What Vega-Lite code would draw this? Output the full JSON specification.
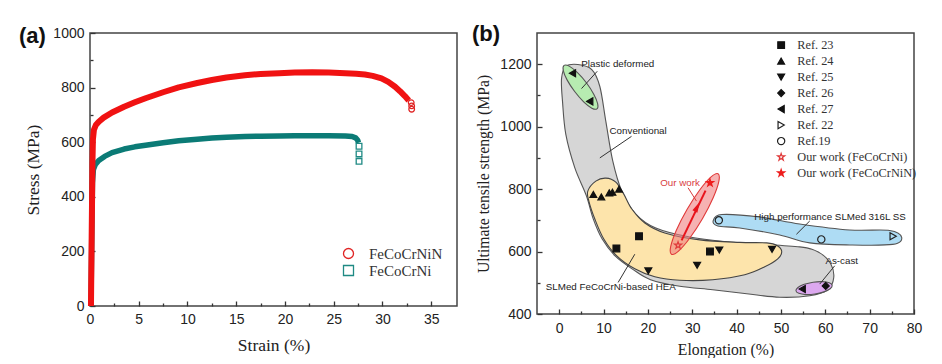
{
  "$schema": "https://vega.github.io/schema/vega-lite/v6.json",
  "background": "white",
  "padding": {"left": 18, "top": 22, "right": 0, "bottom": 0},
  "spacing": 13,
  "resolve": {"scale": {"shape": "independent", "stroke": "independent", "fill": "independent", "size": "independent"}, "legend": {"shape": "independent", "stroke": "independent", "fill": "independent", "size": "independent"}},
  "config": {
    "view": {"stroke": "#444", "strokeWidth": 1.5},
    "axis": {"grid": false, "domain": false, "format": "d", "labelFont": "Liberation Sans", "labelFontSize": 14, "labelColor": "#222", "titleFont": "Liberation Serif", "titleFontWeight": "normal", "titleColor": "#222", "tickColor": "#333", "tickWidth": 1.3, "labelFlush": false, "labelOverlap": false}
  },
  "datasets": {
    "nin": [
      {"strain": 0.1, "stress": 0}, {"strain": 0.17, "stress": 250}, {"strain": 0.25, "stress": 520}, {"strain": 0.3, "stress": 610}, {"strain": 0.4, "stress": 645},
      {"strain": 0.6, "stress": 663}, {"strain": 0.9, "stress": 675}, {"strain": 1.4, "stress": 690}, {"strain": 2.26, "stress": 709}, {"strain": 3.5, "stress": 730},
      {"strain": 4.6, "stress": 746}, {"strain": 5.7, "stress": 761}, {"strain": 7.5, "stress": 783}, {"strain": 9.1, "stress": 801}, {"strain": 11, "stress": 817},
      {"strain": 12.5, "stress": 828}, {"strain": 14, "stress": 837}, {"strain": 15.9, "stress": 845}, {"strain": 17.5, "stress": 850}, {"strain": 19.4, "stress": 853},
      {"strain": 21, "stress": 855}, {"strain": 22.8, "stress": 856}, {"strain": 24.5, "stress": 855}, {"strain": 26.2, "stress": 853}, {"strain": 27.3, "stress": 851},
      {"strain": 28.2, "stress": 848}, {"strain": 29, "stress": 843}, {"strain": 29.9, "stress": 834}, {"strain": 30.6, "stress": 821}, {"strain": 31.3, "stress": 803},
      {"strain": 31.8, "stress": 787}, {"strain": 32.3, "stress": 769}, {"strain": 32.7, "stress": 753}
    ],
    "ni": [
      {"strain": 0.1, "stress": 0}, {"strain": 0.17, "stress": 220}, {"strain": 0.25, "stress": 450}, {"strain": 0.35, "stress": 500}, {"strain": 0.55, "stress": 518},
      {"strain": 0.9, "stress": 533}, {"strain": 1.5, "stress": 548}, {"strain": 2.26, "stress": 562}, {"strain": 3.5, "stress": 575}, {"strain": 4.6, "stress": 583},
      {"strain": 5.7, "stress": 589}, {"strain": 7.5, "stress": 598}, {"strain": 9.1, "stress": 605}, {"strain": 11, "stress": 611}, {"strain": 12.5, "stress": 615},
      {"strain": 14, "stress": 618}, {"strain": 15.9, "stress": 621}, {"strain": 17.5, "stress": 622}, {"strain": 19.4, "stress": 623}, {"strain": 21, "stress": 624},
      {"strain": 22.8, "stress": 624}, {"strain": 24.5, "stress": 624}, {"strain": 26.2, "stress": 623}, {"strain": 26.9, "stress": 621}, {"strain": 27.25, "stress": 616},
      {"strain": 27.45, "stress": 608}, {"strain": 27.55, "stress": 598}
    ],
    "ends": [
      {"strain": 32.95, "stress": 745, "s": "FeCoCrNiN"}, {"strain": 33.0, "stress": 733, "s": "FeCoCrNiN"}, {"strain": 33.0, "stress": 721, "s": "FeCoCrNiN"},
      {"strain": 27.6, "stress": 585, "s": "FeCoCrNi"}, {"strain": 27.6, "stress": 557, "s": "FeCoCrNi"}, {"strain": 27.6, "stress": 530, "s": "FeCoCrNi"}
    ],
    "regions": [
      {"r": "conv", "i": 1, "x": 1.5, "y": 1192.5}, {"r": "conv", "i": 2, "x": 4.21, "y": 1198.9}, {"r": "conv", "i": 3, "x": 7.36, "y": 1182.9},
      {"r": "conv", "i": 4, "x": 9.17, "y": 1128.7}, {"r": "conv", "i": 5, "x": 10.52, "y": 1017.0}, {"r": "conv", "i": 6, "x": 12.09, "y": 889.4},
      {"r": "conv", "i": 7, "x": 14.12, "y": 793.6}, {"r": "conv", "i": 8, "x": 17.28, "y": 720.2}, {"r": "conv", "i": 9, "x": 21.79, "y": 675.5},
      {"r": "conv", "i": 10, "x": 29.45, "y": 646.8}, {"r": "conv", "i": 11, "x": 40.72, "y": 627.7}, {"r": "conv", "i": 12, "x": 54.23, "y": 614.9},
      {"r": "conv", "i": 13, "x": 58.74, "y": 595.8}, {"r": "conv", "i": 14, "x": 61.22, "y": 560.7}, {"r": "conv", "i": 15, "x": 61.9, "y": 516.0},
      {"r": "conv", "i": 16, "x": 60.55, "y": 477.7}, {"r": "conv", "i": 17, "x": 56.49, "y": 458.5}, {"r": "conv", "i": 18, "x": 49.73, "y": 453.7},
      {"r": "conv", "i": 19, "x": 42.29, "y": 464.9}, {"r": "conv", "i": 20, "x": 34.63, "y": 477.7}, {"r": "conv", "i": 21, "x": 27.19, "y": 488.8},
      {"r": "conv", "i": 22, "x": 20.6, "y": 510}, {"r": "conv", "i": 23, "x": 16.6, "y": 543}, {"r": "conv", "i": 24, "x": 12.6, "y": 586},
      {"r": "conv", "i": 25, "x": 9.7, "y": 640}, {"r": "conv", "i": 26, "x": 7.7, "y": 704}, {"r": "conv", "i": 27, "x": 6.1, "y": 780},
      {"r": "conv", "i": 28, "x": 3.53, "y": 868}, {"r": "conv", "i": 29, "x": 1.5, "y": 975}, {"r": "conv", "i": 30, "x": 0.75, "y": 1081},
      {"r": "conv", "i": 31, "x": 0.53, "y": 1154},
      {"r": "slm", "i": 1, "x": 6.46, "y": 793.6}, {"r": "slm", "i": 2, "x": 8.26, "y": 825.5}, {"r": "slm", "i": 3, "x": 10.52, "y": 835.1},
      {"r": "slm", "i": 4, "x": 12.77, "y": 822.3}, {"r": "slm", "i": 5, "x": 14.57, "y": 784.0}, {"r": "slm", "i": 6, "x": 16.38, "y": 736.2},
      {"r": "slm", "i": 7, "x": 19.31, "y": 691.5}, {"r": "slm", "i": 8, "x": 23.81, "y": 659.6}, {"r": "slm", "i": 9, "x": 31.7, "y": 637.3},
      {"r": "slm", "i": 10, "x": 40.72, "y": 629.3}, {"r": "slm", "i": 11, "x": 46.8, "y": 627.7}, {"r": "slm", "i": 12, "x": 49.28, "y": 618.1},
      {"r": "slm", "i": 13, "x": 50.18, "y": 599.0}, {"r": "slm", "i": 14, "x": 49.28, "y": 576.6}, {"r": "slm", "i": 15, "x": 46.35, "y": 551.1},
      {"r": "slm", "i": 16, "x": 41.84, "y": 525.5}, {"r": "slm", "i": 17, "x": 34.63, "y": 509.6}, {"r": "slm", "i": 18, "x": 27.19, "y": 508.0},
      {"r": "slm", "i": 19, "x": 21.56, "y": 519.1}, {"r": "slm", "i": 20, "x": 17.05, "y": 544.7}, {"r": "slm", "i": 21, "x": 12.99, "y": 586.2},
      {"r": "slm", "i": 22, "x": 10.06, "y": 640.4}, {"r": "slm", "i": 23, "x": 8.04, "y": 704.3}, {"r": "slm", "i": 24, "x": 6.69, "y": 761.7},
      {"r": "plastic", "i": 1, "x": 8.52, "y": 1057.0}, {"r": "plastic", "i": 2, "x": 8.68, "y": 1073.4}, {"r": "plastic", "i": 3, "x": 7.8, "y": 1104.0},
      {"r": "plastic", "i": 4, "x": 6.13, "y": 1140.7}, {"r": "plastic", "i": 5, "x": 4.07, "y": 1173.6}, {"r": "plastic", "i": 6, "x": 2.25, "y": 1193.9},
      {"r": "plastic", "i": 7, "x": 1.1, "y": 1196.2}, {"r": "plastic", "i": 8, "x": 0.93, "y": 1179.8}, {"r": "plastic", "i": 9, "x": 1.81, "y": 1149.1},
      {"r": "plastic", "i": 10, "x": 3.49, "y": 1112.5}, {"r": "plastic", "i": 11, "x": 5.52, "y": 1079.6}, {"r": "plastic", "i": 12, "x": 7.36, "y": 1059.3},
      {"r": "hp", "i": 1, "x": 34.74, "y": 699.5}, {"r": "hp", "i": 2, "x": 36.66, "y": 718.6}, {"r": "hp", "i": 3, "x": 45.22, "y": 710.6},
      {"r": "hp", "i": 4, "x": 54.23, "y": 688.3}, {"r": "hp", "i": 5, "x": 65.5, "y": 669.1}, {"r": "hp", "i": 6, "x": 74.51, "y": 667.5},
      {"r": "hp", "i": 7, "x": 77.22, "y": 645.2}, {"r": "hp", "i": 8, "x": 75.19, "y": 622.9}, {"r": "hp", "i": 9, "x": 65.5, "y": 621.2},
      {"r": "hp", "i": 10, "x": 56.49, "y": 627.7}, {"r": "hp", "i": 11, "x": 49.73, "y": 653.2}, {"r": "hp", "i": 12, "x": 40.72, "y": 675.5},
      {"r": "hp", "i": 13, "x": 35.76, "y": 681.9},
      {"r": "cast", "i": 1, "x": 61.55, "y": 491.6}, {"r": "cast", "i": 2, "x": 61.1, "y": 481.0}, {"r": "cast", "i": 3, "x": 59.67, "y": 470.9},
      {"r": "cast", "i": 4, "x": 57.66, "y": 464.0}, {"r": "cast", "i": 5, "x": 55.59, "y": 462.2}, {"r": "cast", "i": 6, "x": 54.03, "y": 466.1},
      {"r": "cast", "i": 7, "x": 53.38, "y": 474.4}, {"r": "cast", "i": 8, "x": 53.83, "y": 485.0}, {"r": "cast", "i": 9, "x": 55.25, "y": 495.0},
      {"r": "cast", "i": 10, "x": 57.26, "y": 501.9}, {"r": "cast", "i": 11, "x": 59.33, "y": 503.6}, {"r": "cast", "i": 12, "x": 60.9, "y": 499.9},
      {"r": "our", "i": 1, "x": 35.83, "y": 849.2}, {"r": "our", "i": 2, "x": 36.0, "y": 824.7}, {"r": "our", "i": 3, "x": 34.72, "y": 772.3},
      {"r": "our", "i": 4, "x": 32.33, "y": 705.9}, {"r": "our", "i": 5, "x": 29.46, "y": 643.3}, {"r": "our", "i": 6, "x": 26.9, "y": 601.3},
      {"r": "our", "i": 7, "x": 25.31, "y": 591.2}, {"r": "our", "i": 8, "x": 25.14, "y": 615.7}, {"r": "our", "i": 9, "x": 26.42, "y": 668.2},
      {"r": "our", "i": 10, "x": 28.82, "y": 734.6}, {"r": "our", "i": 11, "x": 31.68, "y": 797.1}, {"r": "our", "i": 12, "x": 34.25, "y": 839.1}
    ],
    "leaders": [
      {"k": "plastic", "x": 8.58, "y": 1177.3, "x2": 5.04, "y2": 1122.0},
      {"k": "conv", "x": 16.31, "y": 969, "x2": 9.17, "y2": 900},
      {"k": "our", "x": 29.06, "y": 804.2, "x2": 30.95, "y2": 761.7},
      {"k": "hp", "x": 56.49, "y": 697.9, "x2": 53.49, "y2": 655.3},
      {"k": "cast", "x": 62.12, "y": 554.3, "x2": 58.74, "y2": 495.8},
      {"k": "slm", "x": 13.29, "y": 501.0, "x2": 17.05, "y2": 591.5}
    ],
    "arrow": [{"x": 27.6, "y": 636, "x2": 33.0, "y2": 795}],
    "head": [{"x": 31.1, "y": 742}],
    "pts": [
      {"x": 12.9, "y": 610, "s": "Ref. 23"}, {"x": 18.0, "y": 649, "s": "Ref. 23"}, {"x": 34.0, "y": 600, "s": "Ref. 23"},
      {"x": 7.7, "y": 783, "s": "Ref. 24"}, {"x": 9.5, "y": 775, "s": "Ref. 24"}, {"x": 11.3, "y": 788, "s": "Ref. 24"}, {"x": 12.0, "y": 790, "s": "Ref. 24"}, {"x": 13.5, "y": 800, "s": "Ref. 24"},
      {"x": 20.1, "y": 538, "s": "Ref. 25"}, {"x": 31.1, "y": 556, "s": "Ref. 25"}, {"x": 36.1, "y": 605, "s": "Ref. 25"}, {"x": 48.0, "y": 607, "s": "Ref. 25"},
      {"x": 60.1, "y": 490, "s": "Ref. 26"},
      {"x": 3.0, "y": 1171, "s": "Ref. 27"}, {"x": 6.9, "y": 1081, "s": "Ref. 27"}, {"x": 54.8, "y": 480, "s": "Ref. 27"},
      {"x": 75.3, "y": 649, "s": "Ref. 22"},
      {"x": 36.0, "y": 700, "s": "Ref.19"}, {"x": 59.1, "y": 639, "s": "Ref.19"},
      {"x": 26.8, "y": 620, "s": "Our work (FeCoCrNi)"},
      {"x": 34.0, "y": 820, "s": "Our work (FeCoCrNiN)"}
    ],
    "labels": [
      {"t": "Plastic deformed", "x": 13.22, "y": 1201, "c": "k"},
      {"t": "Conventional", "x": 17.8, "y": 985, "c": "k"},
      {"t": "Our work", "x": 27.26, "y": 820, "c": "r"},
      {"t": "High performance SLMed 316L SS", "x": 61.07, "y": 710.6, "c": "k"},
      {"t": "As-cast", "x": 63.7, "y": 570.2, "c": "k"},
      {"t": "SLMed FeCoCrNi-based HEA", "x": 11.64, "y": 485.1, "c": "k"}
    ]
  },
  "hconcat": [
    {
      "width": 367,
      "height": 273,
      "title": {"text": "(a)", "anchor": "start", "frame": "group", "dx": -71, "offset": -22, "fontSize": 22, "fontWeight": "bold", "font": "Liberation Sans", "color": "#111"},
      "encoding": {
        "x": {"field": "strain", "type": "quantitative", "scale": {"domain": [0, 37.65], "nice": false, "zero": false},
          "axis": {"title": "Strain (%)", "titleFontSize": 17.5, "titlePadding": 8, "values": [0, 2.5, 5, 7.5, 10, 12.5, 15, 17.5, 20, 22.5, 25, 27.5, 30, 32.5, 35],
            "labelExpr": "datum.value % 5 === 0 ? datum.label : ''", "tickSize": {"condition": {"test": "datum.value % 5 === 0", "value": -5}, "value": -3}, "labelPadding": 11}},
        "y": {"field": "stress", "type": "quantitative", "scale": {"domain": [0, 1000], "nice": false, "zero": false},
          "axis": {"title": "Stress (MPa)", "titleFontSize": 17.5, "titlePadding": 10, "values": [0, 100, 200, 300, 400, 500, 600, 700, 800, 900, 1000],
            "labelExpr": "datum.value % 200 === 0 ? datum.label : ''", "tickSize": {"condition": {"test": "datum.value % 200 === 0", "value": -5}, "value": -3}, "labelPadding": 11}}
      },
      "layer": [
        {"data": {"name": "ni"}, "mark": {"type": "line", "color": "#0b7b76", "strokeWidth": 5.5, "strokeJoin": "round"}},
        {"data": {"name": "nin"}, "mark": {"type": "line", "color": "#f01212", "strokeWidth": 6, "strokeJoin": "round"}},
        {"data": {"name": "ends"}, "mark": {"type": "point", "filled": false, "opacity": 1, "strokeWidth": 1.3, "size": 32},
          "encoding": {
            "shape": {"field": "s", "type": "nominal", "scale": {"domain": ["FeCoCrNiN", "FeCoCrNi"], "range": ["circle", "square"]},
              "legend": {"title": null, "orient": "none", "legendX": 251, "legendY": 213, "labelFont": "Liberation Serif", "labelFontSize": 15, "labelColor": "#333", "rowPadding": 0, "labelOffset": 13, "symbolStrokeWidth": 1.3}},
            "stroke": {"field": "s", "type": "nominal", "scale": {"domain": ["FeCoCrNiN", "FeCoCrNi"], "range": ["#e02424", "#1f8a84"]},
              "legend": {"title": null, "orient": "none", "legendX": 251, "legendY": 213, "labelFont": "Liberation Serif", "labelFontSize": 15, "labelColor": "#333", "rowPadding": 0, "labelOffset": 13, "symbolStrokeWidth": 1.3}}
          }}
      ]
    },
    {
      "width": 377,
      "height": 281,
      "title": {"text": "(b)", "anchor": "start", "frame": "group", "dx": -65, "offset": -13, "fontSize": 22, "fontWeight": "bold", "font": "Liberation Sans", "color": "#111"},
      "encoding": {
        "x": {"field": "x", "type": "quantitative", "scale": {"domain": [-5, 80], "nice": false, "zero": false},
          "axis": {"title": "Elongation (%)", "titleFontSize": 15.7, "titlePadding": 5, "values": [0, 5, 10, 15, 20, 25, 30, 35, 40, 45, 50, 55, 60, 65, 70, 75, 80],
            "labelExpr": "datum.value % 10 === 0 ? datum.label : ''", "tickSize": {"condition": {"test": "datum.value % 10 === 0", "value": -5}, "value": -3}, "labelPadding": 12}},
        "y": {"field": "y", "type": "quantitative", "scale": {"domain": [400, 1300], "nice": false, "zero": false},
          "axis": {"title": "Ultimate tensile strength (MPa)", "titleFontSize": 15.7, "titlePadding": 8, "values": [400, 500, 600, 700, 800, 900, 1000, 1100, 1200],
            "labelExpr": "datum.value % 200 === 0 ? datum.label : ''", "tickSize": {"condition": {"test": "datum.value % 200 === 0", "value": -5}, "value": -3}, "labelPadding": 11}}
      },
      "layer": [
        {"data": {"name": "regions"}, "transform": [{"filter": "datum.r === 'conv'"}],
          "mark": {"type": "line", "interpolate": "cardinal-closed", "fill": "#d6d6d6", "stroke": "#555", "strokeWidth": 1.1}, "encoding": {"order": {"field": "i", "type": "quantitative"}}},
        {"data": {"name": "regions"}, "transform": [{"filter": "datum.r === 'slm'"}],
          "mark": {"type": "line", "interpolate": "cardinal-closed", "fill": "#fde4ab", "stroke": "#444", "strokeWidth": 1.1}, "encoding": {"order": {"field": "i", "type": "quantitative"}}},
        {"data": {"name": "regions"}, "transform": [{"filter": "datum.r === 'plastic'"}],
          "mark": {"type": "line", "interpolate": "cardinal-closed", "fill": "#b7ecb1", "stroke": "#555", "strokeWidth": 1.1}, "encoding": {"order": {"field": "i", "type": "quantitative"}}},
        {"data": {"name": "regions"}, "transform": [{"filter": "datum.r === 'hp'"}],
          "mark": {"type": "line", "interpolate": "cardinal-closed", "fill": "#aedcf4", "stroke": "#555", "strokeWidth": 1.1}, "encoding": {"order": {"field": "i", "type": "quantitative"}}},
        {"data": {"name": "regions"}, "transform": [{"filter": "datum.r === 'cast'"}],
          "mark": {"type": "line", "interpolate": "cardinal-closed", "fill": "#dca8ef", "stroke": "#555", "strokeWidth": 1.1}, "encoding": {"order": {"field": "i", "type": "quantitative"}}},
        {"data": {"name": "regions"}, "transform": [{"filter": "datum.r === 'our'"}],
          "mark": {"type": "line", "interpolate": "cardinal-closed", "fill": "#f07e7e", "fillOpacity": 0.6, "stroke": "#e03a3a", "strokeWidth": 1.1}, "encoding": {"order": {"field": "i", "type": "quantitative"}}},
        {"data": {"name": "leaders"}, "mark": {"type": "rule", "strokeWidth": 1},
          "encoding": {"x2": {"field": "x2"}, "y2": {"field": "y2"}, "color": {"condition": {"test": "datum.k === 'our'", "value": "#d83b3b"}, "value": "#333"}}},
        {"data": {"name": "arrow"}, "mark": {"type": "rule", "strokeWidth": 2, "color": "#e8141c"},
          "encoding": {"x2": {"field": "x2"}, "y2": {"field": "y2"}}},
        {"data": {"name": "head"}, "mark": {"type": "point", "shape": "M0,-1L0.45,0.8L-0.45,0.8Z", "size": 150, "angle": 27, "filled": true, "color": "#e8141c", "opacity": 1}},
        {"data": {"name": "pts"}, "mark": {"type": "point", "opacity": 1, "strokeWidth": 1.2},
          "encoding": {
            "shape": {"field": "s", "type": "nominal",
              "scale": {"domain": ["Ref. 23", "Ref. 24", "Ref. 25", "Ref. 26", "Ref. 27", "Ref. 22", "Ref.19", "Our work (FeCoCrNi)", "Our work (FeCoCrNiN)"],
                "range": ["square", "triangle-up", "triangle-down", "diamond", "triangle-left", "triangle-right", "circle", "M0,-1L0.2245,-0.309L0.951,-0.309L0.363,0.118L0.588,0.809L0,0.382L-0.588,0.809L-0.363,0.118L-0.951,-0.309L-0.2245,-0.309Z", "M0,-1L0.2245,-0.309L0.951,-0.309L0.363,0.118L0.588,0.809L0,0.382L-0.588,0.809L-0.363,0.118L-0.951,-0.309L-0.2245,-0.309Z"]},
              "legend": {"title": null, "orient": "none", "legendX": 238, "legendY": 4.5, "labelFont": "Liberation Serif", "labelFontSize": 12.3, "labelColor": "#333", "clipHeight": 15.2, "rowPadding": 0, "labelOffset": 10, "symbolStrokeWidth": 1.2}},
            "fill": {"field": "s", "type": "nominal",
              "scale": {"domain": ["Ref. 23", "Ref. 24", "Ref. 25", "Ref. 26", "Ref. 27", "Ref. 22", "Ref.19", "Our work (FeCoCrNi)", "Our work (FeCoCrNiN)"],
                "range": ["#111", "#111", "#111", "#111", "#111", "transparent", "transparent", "transparent", "#ee1c1c"]},
              "legend": {"title": null, "orient": "none", "legendX": 238, "legendY": 4.5, "labelFont": "Liberation Serif", "labelFontSize": 12.3, "labelColor": "#333", "clipHeight": 15.2, "rowPadding": 0, "labelOffset": 10, "symbolStrokeWidth": 1.2}},
            "stroke": {"field": "s", "type": "nominal",
              "scale": {"domain": ["Ref. 23", "Ref. 24", "Ref. 25", "Ref. 26", "Ref. 27", "Ref. 22", "Ref.19", "Our work (FeCoCrNi)", "Our work (FeCoCrNiN)"],
                "range": ["#111", "#111", "#111", "#111", "#111", "#222", "#222", "#e03a3a", "#ee1c1c"]},
              "legend": {"title": null, "orient": "none", "legendX": 238, "legendY": 4.5, "labelFont": "Liberation Serif", "labelFontSize": 12.3, "labelColor": "#333", "clipHeight": 15.2, "rowPadding": 0, "labelOffset": 10, "symbolStrokeWidth": 1.2}},
            "size": {"field": "s", "type": "nominal",
              "scale": {"domain": ["Ref. 23", "Ref. 24", "Ref. 25", "Ref. 26", "Ref. 27", "Ref. 22", "Ref.19", "Our work (FeCoCrNi)", "Our work (FeCoCrNiN)"],
                "range": [45, 55, 55, 60, 55, 50, 50, 190, 210]},
              "legend": {"title": null, "orient": "none", "legendX": 238, "legendY": 4.5, "labelFont": "Liberation Serif", "labelFontSize": 12.3, "labelColor": "#333", "clipHeight": 15.2, "rowPadding": 0, "labelOffset": 10, "symbolStrokeWidth": 1.2}}
          }},
        {"data": {"name": "labels"}, "mark": {"type": "text", "font": "Liberation Sans", "fontSize": 9.8, "align": "center", "baseline": "middle"},
          "encoding": {"text": {"field": "t"}, "color": {"condition": {"test": "datum.c === 'r'", "value": "#d9413f"}, "value": "#222"}}}
      ]
    }
  ]
}
